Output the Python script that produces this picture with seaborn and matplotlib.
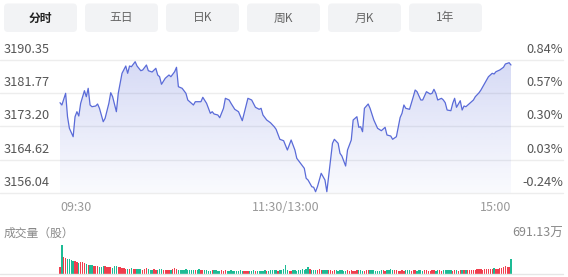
import numpy as np
import pandas as pd
import matplotlib
matplotlib.use("Agg")
import matplotlib.pyplot as plt
from matplotlib.patches import FancyBboxPatch
import seaborn as sns

# ---------------- data ----------------
tabs = ["分时", "五日", "日K", "周K", "月K", "1年"]
price_ticks = [3190.35, 3181.77, 3173.20, 3164.62, 3156.04]
pct_labels = ["0.84%", "0.57%", "0.30%", "0.03%", "-0.24%"]
time_labels = ["09:30", "11:30/13:00", "15:00"]
time_pos = [0, 120, 240]
vol_title = "成交量（股）"
vol_max_label = "691.13万"

minutes = [0, 1, 3, 4, 5, 7, 8, 9, 10, 11, 13, 14, 15, 16, 17, 19, 20, 21, 23, 24,
           26, 27, 28, 30, 31, 33, 35, 36, 37, 38, 40, 41, 43, 44, 46, 47, 49, 51, 52, 53,
           54, 56, 58, 59, 61, 62, 63, 65, 67, 68, 71, 72, 75, 76, 78, 80, 81, 82, 84, 85,
           87, 88, 90, 91, 93, 95, 97, 98, 100, 102, 104, 106, 107, 108, 110, 112, 114, 115, 117, 119,
           121, 122, 123, 125, 126, 128, 130, 131, 132, 134, 135, 136, 137, 139, 141, 142, 144, 145, 146, 148,
           149, 150, 152, 153, 155, 156, 158, 159, 160, 161, 162, 164, 165, 167, 169, 171, 173, 174, 176, 177,
           179, 181, 182, 183, 184, 186, 188, 189, 190, 192, 193, 195, 197, 198, 199, 200, 201, 203, 204, 205,
           206, 208, 209, 210, 211, 213, 214, 215, 216, 218, 220, 221, 223, 224, 226, 228, 230, 231, 232, 234,
           236, 237, 239, 240]
prices = [3179.33, 3178.74, 3181.76, 3175.72, 3172.73, 3170.56, 3175.72, 3177.01, 3175.90, 3179.18,
          3182.43, 3180.88, 3183.05, 3178.74, 3178.30, 3178.48, 3179.00, 3177.89, 3174.43, 3175.31,
          3179.18, 3181.91, 3180.88, 3177.01, 3181.76, 3186.92, 3188.80, 3186.92, 3188.80, 3188.62,
          3189.91, 3188.80, 3187.59, 3187.77, 3189.06, 3187.59, 3187.25, 3188.21, 3186.48, 3186.04,
          3184.08, 3185.63, 3186.48, 3186.04, 3187.33, 3188.47, 3183.46, 3183.05, 3181.76, 3180.03,
          3178.74, 3179.59, 3179.59, 3180.73, 3179.18, 3176.60, 3177.01, 3176.42, 3176.16, 3175.46,
          3177.89, 3180.47, 3180.03, 3179.18, 3177.63, 3177.01, 3174.69, 3176.60, 3180.47, 3180.03,
          3178.15, 3177.63, 3177.89, 3176.16, 3174.87, 3174.17, 3173.14, 3172.47, 3169.89, 3169.53,
          3167.13, 3168.42, 3169.71, 3167.13, 3164.99, 3163.70, 3162.41, 3159.83, 3159.39, 3157.66,
          3157.51, 3156.37, 3157.66, 3161.12, 3159.39, 3156.37, 3164.55, 3168.86, 3169.89, 3168.86,
          3166.28, 3165.58, 3163.00, 3167.13, 3169.71, 3174.87, 3175.72, 3172.99, 3173.14, 3171.85,
          3177.89, 3179.00, 3177.89, 3174.87, 3172.73, 3172.11, 3172.99, 3171.00, 3170.74, 3169.89,
          3170.56, 3175.51, 3176.60, 3178.74, 3177.89, 3177.63, 3180.88, 3182.61, 3182.17, 3180.03,
          3180.03, 3182.17, 3181.58, 3181.76, 3182.79, 3181.76, 3180.03, 3180.47, 3180.03, 3179.33,
          3177.45, 3177.27, 3179.18, 3180.47, 3178.15, 3179.85, 3177.45, 3178.48, 3178.30, 3179.18,
          3180.03, 3180.88, 3181.91, 3182.61, 3184.34, 3186.04, 3186.92, 3186.74, 3187.33, 3187.77,
          3188.47, 3189.32, 3189.65, 3189.06]

# volume per minute, in 万股
volume = [164, 691.13, 398, 374, 351, 339, 328, 304, 293, 281,
          257, 281, 281, 257, 234, 211, 211, 199, 187, 187,
          176, 164, 164, 187, 176, 164, 152, 152, 140, 187,
          187, 164, 152, 140, 129, 117, 117, 117, 129, 117,
          105, 105, 117, 105, 94, 105, 129, 117, 94, 94,
          105, 94, 94, 105, 117, 94, 94, 82, 94, 94,
          117, 129, 105, 94, 94, 82, 94, 105, 94, 82,
          82, 94, 82, 94, 105, 82, 82, 94, 82, 70,
          70, 82, 94, 82, 70, 70, 82, 70, 82, 70,
          70, 82, 70, 70, 59, 70, 82, 70, 70, 70,
          59, 70, 70, 82, 70, 70, 59, 70, 70, 82,
          70, 70, 82, 94, 94, 82, 70, 82, 94, 105,
          211, 82, 70, 70, 82, 82, 70, 82, 94, 105,
          94, 117, 164, 105, 94, 82, 82, 94, 105, 94,
          82, 82, 94, 82, 82, 70, 82, 82, 70, 82,
          82, 70, 70, 82, 70, 82, 70, 70, 82, 94,
          82, 70, 70, 82, 82, 94, 82, 82, 70, 70,
          70, 82, 82, 70, 82, 94, 105, 94, 82, 82,
          70, 70, 82, 70, 82, 94, 82, 70, 82, 82,
          70, 82, 82, 70, 82, 82, 70, 70, 82, 82,
          70, 82, 82, 70, 82, 82, 94, 82, 82, 70,
          82, 82, 70, 82, 82, 82, 94, 82, 82, 94,
          94, 94, 105, 105, 105, 94, 105, 117, 117, 105,
          117, 129, 117, 117, 129, 140, 152, 176, 164, 164,
          351]
# r = up minute, g = down minute
vol_dir = "".join([
    "r", "g", "rr", "gggg", "rr", "g", "rrr", "g", "r", "gg", "rrr", "ggg", "rrrr", "ggg",
    "rrrrr", "g", "r", "g", "rr", "ggg", "rrr", "ggg", "rr", "ggg", "rrrr", "g", "rrr",
    "ggggggggg", "r", "gg", "rr", "gggg", "r", "gggg", "rrr", "ggggggggg", "rrr", "gggr",
    "ggggg", "r", "ggggg", "r", "ggggg", "rr", "ggggggggg", "r", "ggg", "rrr", "ggg", "rrrr",
    "gggggg", "rrrrrr", "ggg", "rrr", "ggggggg", "rr", "gggg", "rrrrrr", "ggg", "rrr", "gggg",
    "rrrrrr", "gg", "rr", "ggggg", "rr", "g", "rr", "g", "r", "g", "rrrrrrrrrrrrrr", "g",
    "rrrrrrrr", "g"])

vol_minutes = list(range(len(volume)))
assert len(minutes) == len(prices)
assert len(vol_dir) == len(volume)

# ---------------- style ----------------
sns.set_style("white")
plt.rcParams["font.family"] = ["Noto Sans CJK SC", "DejaVu Sans"]

W, H = 568, 277
fig = plt.figure(figsize=(W / 100, H / 100), dpi=100)
fig.patch.set_facecolor("white")

X0_PX, X240_PX, XR_PX = 60, 511, 563
ppm = (X240_PX - X0_PX) / 240.0
xlim = (-X0_PX / ppm, 240 + (XR_PX - X240_PX) / ppm)

def px_rect(left, top, right, bottom):
    return [left / W, 1 - bottom / H, (right - left) / W, (bottom - top) / H]

LINE = "#5A6BD8"
GRID = "#EDEDED"
ylo, yhi = price_ticks[-1], price_ticks[0]

# ---------------- price panel ----------------
ax = fig.add_axes(px_rect(0, 60, XR_PX, 193))
ax.set_facecolor("none")
for v in price_ticks:
    ax.axhline(v, color=GRID, lw=1, clip_on=False, zorder=0)

df = pd.DataFrame({"minute": minutes, "price": prices})
poly = ax.fill_between(df["minute"], df["price"], ylo, facecolor="none", edgecolor="none")
grad = np.linspace(0, 1, 256).reshape(-1, 1)
rgba = np.zeros((256, 1, 4))
base = matplotlib.colors.to_rgb(LINE)
rgba[..., 0] = base[0]
rgba[..., 1] = base[1]
rgba[..., 2] = base[2]
rgba[..., 3] = (0.25 * (1 - grad) + 0.03 * grad)
im = ax.imshow(rgba, extent=[0, 240, ylo, yhi], aspect="auto", origin="upper", zorder=1)
im.set_clip_path(poly.get_paths()[0], transform=ax.transData)

sns.lineplot(data=df, x="minute", y="price", ax=ax, color=LINE, lw=0.9, zorder=3)
ax.set_xlim(*xlim)
ax.set_ylim(ylo, yhi)
ax.set_xticks([]); ax.set_yticks([])
ax.set_xlabel(""); ax.set_ylabel("")
for s in ax.spines.values():
    s.set_visible(False)

for v, lab in zip(price_ticks, [f"{p:.2f}" for p in price_ticks]):
    ax.annotate(lab, xy=(0, v), xycoords=("axes fraction", "data"), xytext=(4, 7),
                textcoords="offset pixels", ha="left", va="baseline",
                fontsize=9.2, color="#555555", annotation_clip=False)
for v, lab in zip(price_ticks, pct_labels):
    ax.annotate(lab, xy=(1, v), xycoords=("axes fraction", "data"), xytext=(0, 7),
                textcoords="offset pixels", ha="right", va="baseline",
                fontsize=9.2, color="#555555", annotation_clip=False)
for pos, lab, ha in zip(time_pos, time_labels, ["left", "center", "right"]):
    ax.annotate(lab, xy=(pos, ylo), xycoords="data", xytext=(0, -18),
                textcoords="offset pixels", ha=ha, va="baseline",
                fontsize=9.0, color="#999999", annotation_clip=False)

# ---------------- volume panel ----------------
axv = fig.add_axes(px_rect(0, 244.5, XR_PX, 273.5))
axv.set_facecolor("none")
vdf = pd.DataFrame({"minute": vol_minutes, "vol": volume, "dir": list(vol_dir)})
sns.barplot(data=vdf, x="minute", y="vol", hue="dir", native_scale=True, dodge=False,
            palette={"r": "#F03E4E", "g": "#1DBB95"}, width=0.72, ax=axv,
            legend=False, saturation=1, linewidth=0, errorbar=None)
axv.set_xlim(*xlim)
axv.set_ylim(0, max(volume))
axv.set_xticks([]); axv.set_yticks([])
axv.set_xlabel(""); axv.set_ylabel("")
for s in axv.spines.values():
    s.set_visible(False)

# ---------------- overlay: tabs and labels ----------------
ov = fig.add_axes([0, 0, 1, 1])
ov.set_xlim(0, W); ov.set_ylim(H, 0)
ov.axis("off")
ov.patch.set_alpha(0)
ov.plot([0, XR_PX], [274, 274], color="#E6E6E6", lw=1)

tab_left = [4, 85, 166, 247, 328, 409]
tab_w = 73
for i, (xl, t) in enumerate(zip(tab_left, tabs)):
    ov.add_patch(FancyBboxPatch((xl, 3.5), tab_w, 28.5,
                                boxstyle="round,pad=0,rounding_size=4",
                                facecolor="#F2F3F5", edgecolor="none"))
    ov.text(xl + tab_w / 2, 18, t, ha="center", va="center", fontsize=8.5,
            color="#222222" if i == 0 else "#666666",
            fontweight="bold" if i == 0 else "normal")

ov.text(4, 236.5, vol_title, ha="left", va="baseline", fontsize=8.5, color="#888888")
ov.text(563, 236.5, vol_max_label, ha="right", va="baseline", fontsize=9.0, color="#888888")

fig.savefig("out.png", dpi=100)
